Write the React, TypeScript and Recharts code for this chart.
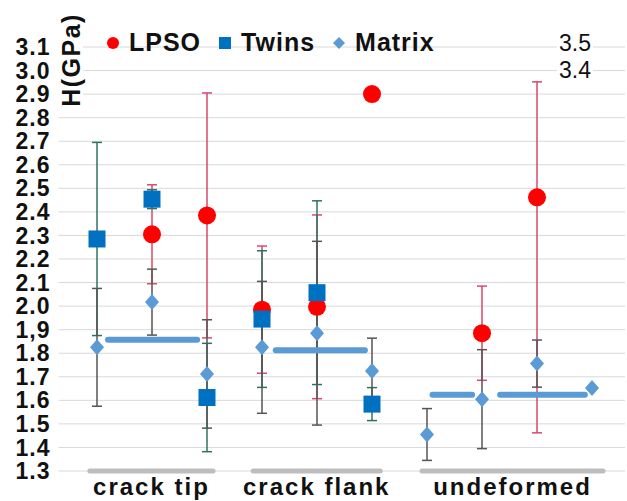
import {
  CartesianGrid,
  ErrorBar,
  Legend,
  ReferenceLine,
  Scatter,
  ScatterChart,
  XAxis,
  YAxis,
} from "recharts"

// Valeurs (x = position de la colonne)
const lpsoPoints = [
  { x: 2, h: 2.305, err: [0.21, 0.21] },
  { x: 3, h: 2.385, err: [0.52, 0.52] },
  { x: 4, h: 1.985, err: [0.27, 0.27] },
  { x: 5, h: 1.997, err: [0.39, 0.39] },
  { x: 6, h: 2.9, err: null },
  { x: 8, h: 1.885, err: [0.2, 0.2] },
  { x: 9, h: 2.462, err: [1.0, 0.49] },
]

const twinsPoints = [
  { x: 1, h: 2.285, err: [0.41, 0.41] },
  { x: 2, h: 2.454, err: [0.04, 0.04] },
  { x: 3, h: 1.612, err: [0.23, 0.23] },
  { x: 4, h: 1.945, err: [0.29, 0.29] },
  { x: 5, h: 2.057, err: [0.39, 0.39] },
  { x: 6, h: 1.584, err: [0.07, 0.07] },
]

const matrixPoints = [
  { x: 1, h: 1.825, err: [0.25, 0.25] },
  { x: 2, h: 2.017, err: [0.14, 0.14] },
  { x: 3, h: 1.712, err: [0.23, 0.23] },
  { x: 4, h: 1.825, err: [0.28, 0.28] },
  { x: 5, h: 1.885, err: [0.39, 0.39] },
  { x: 6, h: 1.724, err: [0.14, 0.14] },
  { x: 7, h: 1.455, err: [0.11, 0.11] },
  { x: 8, h: 1.605, err: [0.21, 0.21] },
  { x: 9, h: 1.756, err: [0.1, 0.1] },
  { x: 10, h: 1.652, err: null },
]

// moyennes de la matrice (traits horizontaux)
const matrixMeans = [
  { from: 1.2, to: 2.82, h: 1.857 },
  { from: 4.25, to: 5.87, h: 1.813 },
  { from: 7.1, to: 7.82, h: 1.624 },
  { from: 8.33, to: 9.87, h: 1.624 },
]

const groups = [
  { name: "crack tip", from: 0.87, to: 3.11 },
  { name: "crack flank", from: 3.84, to: 6.15 },
  { name: "undeformed", from: 6.91, to: 10.2 },
]

const yTicks = [1.3, 1.4, 1.5, 1.6, 1.7, 1.8, 1.9, 2.0, 2.1, 2.2, 2.3, 2.4, 2.5, 2.6, 2.7, 2.8, 2.9, 3.0, 3.1]
const yTickLabels = ["1.3", "1.4", "1.5", "1.6", "1.7", "1.8", "1,9", "2.0", "2.1", "2.2", "2.3", "2.4", "2.5", "2.6", "2.7", "2.8", "2.9", "3.0", "3.1"]

const offChartLabels = ["3.5", "3.4"]

const FONT = "'Liberation Sans', Arial, sans-serif"
const RED = "#ff0000"
const BLUE = "#0070c0"
const LIGHT = "#5b9bd5"

const groupCenters = groups.map((g) => (g.from + g.to) / 2)

const Circle = (p: any) => <circle cx={p.cx} cy={p.cy} r={9} fill={RED} />
const Square = (p: any) => <rect x={p.cx - 8.5} y={p.cy - 8.5} width={17} height={17} fill={BLUE} />
const Diamond = (p: any) => (
  <path d={`M${p.cx},${p.cy - 8}L${p.cx + 7},${p.cy}L${p.cx},${p.cy + 8}L${p.cx - 7},${p.cy}Z`} fill={LIGHT} />
)

const legendItems = [
  { name: "LPSO", icon: <circle cx={7} cy={7} r={6} fill={RED} /> },
  { name: "Twins", icon: <rect x={1} y={1} width={12} height={12} fill={BLUE} /> },
  { name: "Matrix", icon: <path d="M7,1L13,7L7,13L1,7Z" fill={LIGHT} /> },
]

const renderLegend = () => (
  <div style={{ display: "flex", alignItems: "center", fontFamily: FONT, fontWeight: 700, fontSize: 25, lineHeight: "25px", color: "#111" }}>
    {legendItems.map((it) => (
      <div key={it.name} style={{ display: "flex", alignItems: "center", marginRight: 17 }}>
        <svg width={14} height={14} style={{ marginRight: 9 }}>{it.icon}</svg>
        <span style={{ letterSpacing: 1 }}>{it.name}</span>
      </div>
    ))}
  </div>
)

export default function App() {
  return (
    <div style={{ position: "absolute", left: 0, top: 0, width: 627, height: 501, background: "#fff" }}>
      <ScatterChart width={627} height={501} margin={{ top: 22, right: 2, bottom: 0, left: 0 }}>
        <CartesianGrid horizontal vertical={false} stroke="#d9d9d9" />
        <XAxis
          type="number"
          dataKey="x"
          domain={[0.3, 10.6]}
          ticks={groupCenters}
          tickFormatter={(v: number) => groups[groupCenters.indexOf(v)]?.name ?? ""}
          axisLine={false}
          tickLine={false}
          tickSize={0}
          tickMargin={7}
          height={30}
          interval={0}
          allowDataOverflow
          tick={{ fontFamily: FONT, fontWeight: 700, fontSize: 24, fill: "#111", letterSpacing: 2 }}
        />
        <YAxis
          type="number"
          dataKey="h"
          domain={[1.3, 3.1]}
          ticks={yTicks}
          tickFormatter={(v: number) => yTickLabels[yTicks.findIndex((t) => Math.abs(t - v) < 1e-6)]}
          interval={0}
          width={58.5}
          axisLine={false}
          tickLine={false}
          tickSize={0}
          tickMargin={8}
          allowDataOverflow
          tick={{ fontFamily: FONT, fontWeight: 700, fontSize: 23, fill: "#111", letterSpacing: 1 }}
        />
        <Legend
          verticalAlign="top"
          content={renderLegend}
          wrapperStyle={{ position: "absolute", top: 30, left: 106, width: "auto" }}
        />
        {groups.map((g) => (
          <ReferenceLine
            key={g.name}
            segment={[{ x: g.from, y: 1.3 }, { x: g.to, y: 1.3 }]}
            stroke="#bdbdbd"
            strokeWidth={5}
            strokeLinecap="round"
            ifOverflow="visible"
          />
        ))}
        <Scatter name="LPSO" data={lpsoPoints} shape={Circle} isAnimationActive={false}>
          <ErrorBar dataKey="err" direction="y" stroke="#d9496c" strokeWidth={1.5} width={5} />
        </Scatter>
        <Scatter name="Twins" data={twinsPoints} shape={Square} isAnimationActive={false}>
          <ErrorBar dataKey="err" direction="y" stroke="#2f7262" strokeWidth={1.5} width={5} />
        </Scatter>
        <Scatter name="Matrix" data={matrixPoints} shape={Diamond} isAnimationActive={false}>
          <ErrorBar dataKey="err" direction="y" stroke="#555" strokeWidth={1.5} width={5} />
        </Scatter>
        {matrixMeans.map((m, i) => (
          <ReferenceLine
            key={i}
            segment={[{ x: m.from, y: m.h }, { x: m.to, y: m.h }]}
            stroke={LIGHT}
            strokeWidth={6}
            strokeLinecap="round"
          />
        ))}
      </ScatterChart>
      <div
        style={{
          position: "absolute",
          left: 71,
          top: 60,
          transform: "translate(-50%, -50%) rotate(-90deg)",
          fontFamily: FONT,
          fontWeight: 700,
          fontSize: 25,
          letterSpacing: 1.5,
          color: "#111",
          background: "#fff",
          whiteSpace: "nowrap",
          lineHeight: "24px",
          padding: "0 4px",
        }}
      >
        H(GPa)
      </div>
      <div
        style={{
          position: "absolute",
          right: 34,
          top: 30,
          fontFamily: FONT,
          fontSize: 23,
          lineHeight: "27px",
          color: "#111",
          background: "#fff",
          textAlign: "right",
          padding: "0 2px",
        }}
      >
        {offChartLabels.map((t) => (
          <div key={t}>{t}</div>
        ))}
      </div>
    </div>
  )
}
